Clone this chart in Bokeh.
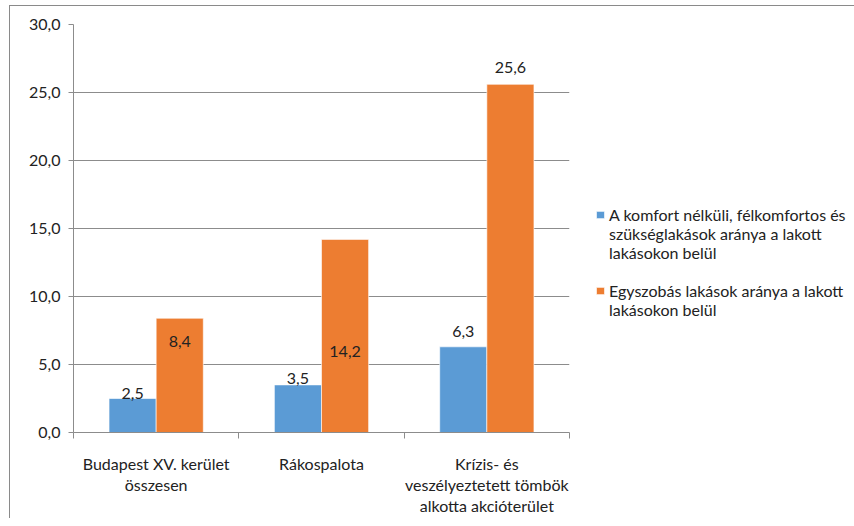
from bokeh.plotting import figure
from bokeh.models import (ColumnDataSource, Range1d, FixedTicker, Legend, LegendItem,
                          InlineStyleSheet)
from bokeh.core.properties import value
from bokeh.embed import file_html
from bokeh.resources import INLINE

# ---- data ----
categories = ["Budapest XV. kerület\nösszesen", "Rákospalota",
              "Krízis- és\nveszélyeztetett tömbök\nalkotta akcióterület"]
series1_lines = ["A komfort nélküli, félkomfortos és",
                 "szükséglakások aránya a lakott",
                 "lakásokon belül"]
series2_lines = ["Egyszobás lakások aránya a lakott",
                 "lakásokon belül"]
komfort_nelkuli = [2.5, 3.5, 6.3]
egyszobas = [8.4, 14.2, 25.6]
y_ticks = [0, 5, 10, 15, 20, 25, 30]
y_tick_labels = ["0,0", "5,0", "10,0", "15,0", "20,0", "25,0", "30,0"]

# ---- styles ----
FONT = "Lato"
FS = "16px"
BLUE = "#5B9BD5"
ORANGE = "#ED7D31"
GRID = "#8c8c8c"
TXT = "#222222"
bar_w = 0.285
dodge = 0.1425
label_dy_blue = [-5, -6, -15]     # screen px, + = down (manual label placement as in original)
label_dy_orange = [23, 112, -17]

def fmt(v):
    return ("%.1f" % v).replace(".", ",")

centers = [i + 0.5 for i in range(len(categories))]

p = figure(frame_width=496, frame_height=408,
           min_border_left=63, min_border_top=18, min_border_bottom=86, min_border_right=269,
           x_range=Range1d(0, len(categories)), y_range=Range1d(0, 30),
           output_backend="svg", toolbar_location=None)
p.stylesheets = [InlineStyleSheet(css=":host { margin-left: 9px; margin-top: 5px; "
                                      "border-top: 1px solid #8a8a8a; border-left: 1px solid #8a8a8a; }")]
p.outline_line_color = None
p.background_fill_color = "white"

src_b = ColumnDataSource(dict(x=[c - dodge for c in centers], top=komfort_nelkuli,
                              lbl=[fmt(v) for v in komfort_nelkuli], dy=label_dy_blue))
src_o = ColumnDataSource(dict(x=[c + dodge for c in centers], top=egyszobas,
                              lbl=[fmt(v) for v in egyszobas], dy=label_dy_orange))

rb = p.vbar(x="x", top="top", width=bar_w, bottom=0, source=src_b,
            fill_color=BLUE, line_color="white", line_width=0.6)
ro = p.vbar(x="x", top="top", width=bar_w, bottom=0, source=src_o,
            fill_color=ORANGE, line_color="white", line_width=0.6)
# invisible renderer used for legend continuation lines
blank = p.vbar(x=[], top=[], width=bar_w, fill_alpha=0, line_alpha=0)

for src in (src_b, src_o):
    p.text(x="x", y="top", text="lbl", source=src, y_offset="dy",
           text_align="center", text_baseline="middle",
           text_font=value(FONT), text_font_size=FS, text_color=TXT)

# y axis
p.yaxis.ticker = FixedTicker(ticks=y_ticks)
p.yaxis.major_label_overrides = {t: l for t, l in zip(y_ticks, y_tick_labels)}
p.yaxis.axis_line_color = GRID
p.yaxis.major_tick_line_color = GRID
p.yaxis.major_tick_out = 5
p.yaxis.major_tick_in = 0
p.yaxis.minor_tick_line_color = None
p.yaxis.major_label_standoff = 8
p.yaxis.major_label_text_font = FONT
p.yaxis.major_label_text_font_size = FS
p.yaxis.major_label_text_color = TXT

# x axis
p.xaxis.ticker = FixedTicker(ticks=centers, minor_ticks=list(range(len(categories) + 1)))
p.xaxis.major_label_overrides = {c: l for c, l in zip(centers, categories)}
p.xaxis.axis_line_color = GRID
p.xaxis.major_tick_line_color = None
p.xaxis.major_tick_out = 0
p.xaxis.major_tick_in = 0
p.xaxis.minor_tick_line_color = GRID
p.xaxis.minor_tick_out = 6
p.xaxis.minor_tick_in = 0
p.xaxis.major_label_standoff = 15
p.xaxis.major_label_text_font = FONT
p.xaxis.major_label_text_font_size = FS
p.xaxis.major_label_text_color = TXT
p.xaxis.major_label_text_line_height = 1.12

p.xgrid.grid_line_color = None
p.ygrid.grid_line_color = GRID
p.ygrid.grid_line_width = 1

items = [LegendItem(label=series1_lines[0], renderers=[rb])]
items += [LegendItem(label=t, renderers=[blank]) for t in series1_lines[1:]]
items += [LegendItem(label=" ", renderers=[blank])]
items += [LegendItem(label=series2_lines[0], renderers=[ro])]
items += [LegendItem(label=t, renderers=[blank]) for t in series2_lines[1:]]

legend = Legend(items=items, location=(26, 113), orientation="vertical",
                glyph_width=10, glyph_height=9, label_standoff=4,
                label_height=19, spacing=0, padding=0, margin=0,
                border_line_color=None, background_fill_alpha=0,
                label_text_font=FONT, label_text_font_size=FS,
                label_text_color=TXT)
p.add_layout(legend, "right")

open("out.html", "w").write(file_html(p, INLINE))
